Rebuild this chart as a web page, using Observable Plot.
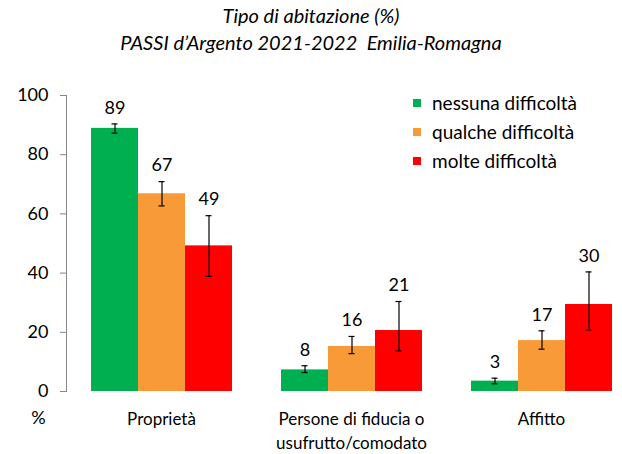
<!DOCTYPE html>
<html>
<head>
<meta charset="utf-8">
<script src="https://cdn.jsdelivr.net/npm/d3@7"></script>
<script src="https://cdn.jsdelivr.net/npm/@observablehq/plot@0.6"></script>
<style>
  html, body { margin: 0; padding: 0; background: #fff; overflow: hidden; }
  #wrap { position: relative; width: 622px; height: 454px; font-family: Lato, "Open Sans", sans-serif; }
  #title { position: absolute; left: 0; top: 2px; width: 622px; text-align: center; font-style: italic; font-size: 20px; line-height: 27px; color: #000; }
  #chart { position: absolute; left: 0; top: 60px; }
  #legend { position: absolute; left: 413px; top: 88px; font-size: 19px; color: #000; }
  .item { display: flex; align-items: center; height: 29px; }
  .sw { width: 8px; height: 8px; margin-right: 11px; }
</style>
</head>
<body>
<div id="wrap">
  <div id="title">Tipo di abitazione (%)<br>PASSI d’Argento 2021-2022&nbsp; Emilia-Romagna</div>
  <div id="chart"></div>
  <div id="legend"></div>
</div>
<script>
const categories = ["Proprietà", "Persone di fiducia o\nusufrutto/comodato", "Affitto"];
const levels = ["nessuna difficoltà", "qualche difficoltà", "molte difficoltà"];
const colors = ["#00B050", "#F99A38", "#FF0000"];
const yTicks = [0, 20, 40, 60, 80, 100];

// values per category, in order of levels
const nessuna = [88.9, 7.3, 3.5];
const qualche = [66.8, 15.2, 17.2];
const molte   = [49.2, 20.6, 29.4];
const nessunaLo = [87.3, 6.4, 2.6], nessunaHi = [90.4, 8.7, 4.5];
const qualcheLo = [62.7, 12.8, 14.3], qualcheHi = [70.9, 18.6, 20.5];
const molteLo   = [38.9, 13.7, 20.8], molteHi   = [59.4, 30.4, 40.4];
const nessunaLbl = ["89", "8", "3"];
const qualcheLbl = ["67", "16", "17"];
const molteLbl   = ["49", "21", "30"];

const series = [
  [nessuna, nessunaLo, nessunaHi, nessunaLbl],
  [qualche, qualcheLo, qualcheHi, qualcheLbl],
  [molte, molteLo, molteHi, molteLbl]
];
const rows = [];
categories.forEach((cat, i) => {
  series.forEach(([v, lo, hi, lb], j) => {
    rows.push({cat, level: levels[j], value: v[i], lo: lo[i], hi: hi[i], label: lb[i]});
  });
});

const chart = Plot.plot({
  width: 622,
  height: 394,
  marginLeft: 66,
  marginRight: -14,
  marginTop: 35,
  marginBottom: 63,
  style: {fontFamily: "Lato, 'Open Sans', sans-serif", fontSize: "18px", color: "#000", background: "transparent"},
  fx: {domain: categories, padding: 0, label: null},
  x: {domain: levels, paddingInner: 0, paddingOuter: 0.493, axis: null},
  y: {domain: [0, 100], label: null},
  color: {domain: levels, range: colors},
  marks: [
    Plot.barY(rows, {fx: "cat", x: "level", y: "value", fill: "level"}),
    Plot.ruleX(rows, {fx: "cat", x: "level", y1: "lo", y2: "hi", stroke: "#000", strokeWidth: 1.2}),
    Plot.tickY(rows, {fx: "cat", x: "level", y: "lo", stroke: "#000", strokeWidth: 1.2, insetLeft: 20.5, insetRight: 20.5}),
    Plot.tickY(rows, {fx: "cat", x: "level", y: "hi", stroke: "#000", strokeWidth: 1.2, insetLeft: 20.5, insetRight: 20.5}),
    Plot.text(rows, {fx: "cat", x: "level", y: "hi", text: "label", dy: -16, fill: "#000", fontSize: 18}),
    Plot.frame({anchor: "left", facetAnchor: "left", stroke: "#868686"}),
    Plot.axisY({ticks: yTicks, tickSize: 6, tickPadding: 12, stroke: "#868686", fill: "#000", label: null, fontSize: 18}),
    Plot.axisFx({anchor: "bottom", tickSize: 0, tickPadding: 16, lineHeight: 1.42, label: null, fontSize: 17}),
    Plot.text(["%"], {frameAnchor: "bottom-left", facetAnchor: "left", textAnchor: "middle", lineAnchor: "middle", dx: -28, dy: 27, fontSize: 18, fill: "#000"})
  ]
});
document.getElementById("chart").appendChild(chart);

const legend = document.getElementById("legend");
levels.forEach((l, i) => {
  const it = document.createElement("div");
  it.className = "item";
  const sw = document.createElement("div");
  sw.className = "sw";
  sw.style.background = colors[i];
  const t = document.createElement("span");
  t.textContent = l;
  it.appendChild(sw);
  it.appendChild(t);
  legend.appendChild(it);
});
</script>
</body>
</html>
